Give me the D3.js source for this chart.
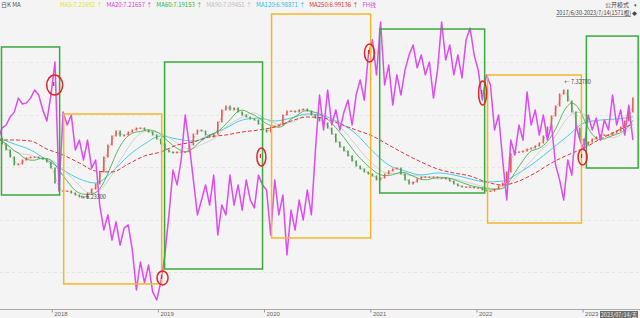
<!DOCTYPE html>
<html><head><meta charset="utf-8">
<script src="https://cdn.jsdelivr.net/npm/d3@7"></script>
<style>
html,body{margin:0;padding:0;background:#f4f4f4;overflow:hidden;}
svg{display:block;font-family:"Noto Sans CJK SC","Noto Sans",sans-serif;}
</style></head><body>
<svg id="c" width="640" height="318"></svg>
<script>
// ---------- DATA ----------
const startDate = "2017-06-30";
const endDate = "2023-07-14";
const stepDays = 14; // one sample every two weeks
const closePrice = [6.780,6.723,6.666,6.599,6.523,6.532,6.570,6.590,6.599,6.599,6.590,6.580,6.551,6.494,6.351,6.275,6.275,6.275,6.256,6.237,6.218,6.209,6.256,6.294,6.342,6.456,6.599,6.713,6.799,6.847,6.799,6.809,6.837,6.856,6.875,6.875,6.856,6.837,6.809,6.770,6.723,6.666,6.647,6.637,6.647,6.647,6.647,6.713,6.818,6.856,6.847,6.809,6.790,6.818,6.932,7.047,7.085,7.047,7.066,7.028,6.999,6.980,6.961,6.951,6.913,6.856,6.837,6.885,6.894,6.904,6.999,7.037,7.037,7.028,7.047,7.056,7.037,6.999,6.970,6.942,6.923,6.875,6.818,6.742,6.694,6.656,6.609,6.561,6.513,6.485,6.456,6.437,6.418,6.380,6.399,6.437,6.466,6.485,6.494,6.437,6.380,6.342,6.361,6.390,6.409,6.409,6.409,6.409,6.399,6.399,6.390,6.370,6.342,6.323,6.313,6.313,6.313,6.304,6.304,6.285,6.275,6.275,6.294,6.323,6.351,6.456,6.628,6.647,6.647,6.656,6.675,6.685,6.704,6.732,6.799,6.885,6.990,7.085,7.199,7.237,7.132,7.028,6.875,6.770,6.713,6.742,6.770,6.790,6.809,6.809,6.809,6.828,6.847,6.885,6.942,7.028,7.161];
const fhValues = [57.1,61.4,62.5,65.4,67.1,72.1,70.0,70.4,72.1,75.0,73.2,67.9,63.9,73.2,85.0,39.3,67.1,62.5,66.1,53.6,57.1,50.0,57.1,47.1,50.0,33.9,25.0,30.4,21.4,27.9,19.6,25.7,26.8,17.9,3.6,13.6,6.1,12.5,2.9,0.0,6.4,16.1,30.4,46.4,41.1,50.0,66.1,55.4,42.9,30.4,35.7,41.1,33.9,44.6,23.2,33.9,30.4,44.6,33.9,41.1,32.1,42.9,35.7,32.9,44.6,41.1,39.3,23.2,42.9,30.4,37.5,16.1,32.1,25.0,35.7,28.6,39.3,30.4,53.6,73.2,60.7,75.0,62.5,67.9,60.7,67.1,71.4,62.5,73.2,78.6,71.4,87.5,92.9,80.4,99.3,76.8,83.9,69.6,80.4,73.2,82.1,87.5,91.1,82.9,87.5,80.4,85.0,72.1,82.1,99.3,85.7,91.1,80.4,87.5,79.3,92.9,97.1,87.5,82.1,71.4,80.4,76.8,60.7,66.1,50.0,35.7,57.1,51.8,62.5,57.1,74.3,62.5,67.9,58.9,66.1,57.1,62.5,48.2,42.9,35.7,50.0,44.6,62.5,57.1,53.6,66.1,60.7,65.0,57.1,64.3,60.7,73.2,62.5,67.9,58.9,69.6,57.1];
const maStepDays = 56; // long averages read every eight weeks
const ma120Values = [6.780,6.723,6.666,6.570,6.475,6.390,6.351,6.456,6.609,6.723,6.799,6.770,6.751,6.809,6.875,6.951,6.970,6.942,6.970,7.009,6.990,6.923,6.818,6.656,6.523,6.466,6.428,6.447,6.428,6.390,6.361,6.370,6.447,6.551,6.675,6.799,6.923,6.951,6.961,6.980];
const ma250Values = [6.761,6.761,6.751,6.675,6.618,6.542,6.466,6.456,6.532,6.609,6.647,6.713,6.742,6.790,6.809,6.837,6.856,6.885,6.942,6.980,6.970,6.913,6.856,6.799,6.713,6.628,6.551,6.485,6.447,6.418,6.361,6.332,6.370,6.447,6.542,6.618,6.685,6.770,6.847,6.913];
const yearLabels = ["2018","2019","2020","2021","2022","2023"];
const legendLabels = ["MA5:7.21692 ↑","MA20:7.21657 ↑","MA60:7.19153 ↑","MA90:7.09451 ↑","MA120:6.98871 ↑","MA250:6.99136 ↑","FH线"];
// boxes: [start date, end date, top price, bottom price]
const greenBoxes = [["2017-07-12","2018-01-28",7.647,6.237],["2019-01-24","2019-12-27",7.504,5.532],["2021-02-02","2022-01-29",7.818,6.256],["2023-01-14","2023-07-11",7.751,6.494]];
const orangeBoxes = [["2018-02-11","2019-01-14",7.009,5.390],["2020-01-27","2021-01-02",7.961,5.828],["2022-02-08","2022-12-28",7.380,5.970]];
// signal circles: [date, price]
const signalMarks = [["2018-01-11",7.285],["2019-01-17",5.447],["2019-12-23",6.599],["2020-12-29",7.590],["2022-01-22",7.209],["2023-01-01",6.599]];
const lowLabel = ["2018-04-10", 6.20, "6.23300"];
const highLabel = ["2022-10-30", 7.29, "7.32780"];

// ---------- SETUP ----------
const W = 640, H = 318;
const svg = d3.select("#c");
const parse = d3.timeParse("%Y-%m-%d");
const t0 = parse(startDate), t1 = parse(endDate);
const x = d3.scaleTime().domain([t0, t1]).range([-2, 639]);
const y = d3.scaleLinear().domain([5.151, 7.904]).range([309, 20]);
const yf = d3.scaleLinear().domain([0, 100]).range([300, 20]);

const n = Math.min(closePrice.length, fhValues.length);
const dates = d3.range(n).map(i => d3.timeDay.offset(t0, i * stepDays));
const bars = d3.range(n).map(i => ({d: dates[i], c: closePrice[i], o: i ? closePrice[i-1] : closePrice[i], fh: fhValues[i]}));
const maDates = d3.range(ma120Values.length).map(i => d3.timeDay.offset(t0, i * maStepDays));

svg.append("rect").attr("width", W).attr("height", H).attr("fill", "#f4f4f4");

// faint grid
const grid = svg.append("g");
[7.5, 7.0, 6.5, 6.0, 5.5].forEach(p => {
  grid.append("line").attr("x1", 0).attr("x2", W).attr("y1", Math.round(y(p)) + 0.5).attr("y2", Math.round(y(p)) + 0.5)
    .attr("stroke", "#e6e6e6").attr("stroke-dasharray", "3,3").attr("stroke-width", 1);
});

// bottom axis
const axisG = svg.append("g").attr("transform", "translate(0,309.5)");
axisG.call(d3.axisBottom(x).tickValues(yearLabels.map(s => parse(s + "-01-01"))).tickSize(3).tickFormat(d => d3.timeFormat("%Y")(d)));
axisG.select(".domain").attr("stroke", "#aaa").attr("d", `M0,0H${W}`);
axisG.selectAll(".tick line").attr("stroke", "#999");
axisG.selectAll(".tick text").attr("y", 2).attr("dy", "0.71em").attr("x", 2).attr("text-anchor", "start")
  .attr("font-size", 6).attr("fill", "#666");

// moving average helper (trailing)
function trailing(win) {
  return bars.map((b, i) => ({d: b.d, v: d3.mean(bars.slice(Math.max(0, i - win + 1), i + 1), e => e.c)}));
}
const lineP = d3.line().x(p => x(p.d)).y(p => y(p.v)).curve(d3.curveMonotoneX);

// long MAs
svg.append("path").datum(ma120Values.map((v, i) => ({d: maDates[i], v})))
  .attr("d", lineP).attr("fill", "none").attr("stroke", "#4cc9e6").attr("stroke-width", 1);
svg.append("path").datum(trailing(9)).attr("d", lineP).attr("fill", "none").attr("stroke", "#c8c8c8").attr("stroke-width", 0.8);
svg.append("path").datum(trailing(6)).attr("d", lineP).attr("fill", "none").attr("stroke", "#36a83a").attr("stroke-width", 0.8);
svg.append("path").datum(trailing(2)).attr("d", lineP).attr("fill", "none").attr("stroke", "#e8a0a0").attr("stroke-width", 0.8).attr("stroke-dasharray", "2,1");
svg.append("path").datum(ma250Values.map((v, i) => ({d: maDates[i], v})))
  .attr("d", lineP).attr("fill", "none").attr("stroke", "#d83a3a").attr("stroke-width", 1).attr("stroke-dasharray", "4,2");

// candles
const cg = svg.append("g");
cg.selectAll("rect").data(bars).join("rect")
  .attr("x", b => x(b.d) - 0.8).attr("width", 1.6)
  .attr("y", b => Math.min(y(b.o), y(b.c)) - 0.5)
  .attr("height", b => Math.max(1.5, Math.abs(y(b.o) - y(b.c)) + 1))
  .attr("fill", b => b.c >= b.o ? "#e0503e" : "#3a9a40")
  .attr("opacity", 0.9);

// FH magenta line
svg.append("path").datum(bars)
  .attr("d", d3.line().x(b => x(b.d)).y(b => yf(b.fh)))
  .attr("fill", "none").attr("stroke", "#dc4cf0").attr("stroke-width", 1.5).attr("stroke-linejoin", "round");

// boxes
function drawBoxes(list, color) {
  svg.append("g").selectAll("rect").data(list).join("rect")
    .attr("x", b => x(parse(b[0]))).attr("y", b => y(b[2]))
    .attr("width", b => x(parse(b[1])) - x(parse(b[0])))
    .attr("height", b => y(b[3]) - y(b[2]))
    .attr("fill", "none").attr("stroke", color).attr("stroke-width", 1.5);
}
drawBoxes(greenBoxes, "#3aa93a");
drawBoxes(orangeBoxes, "#f6b62c");

// signal circles
const radii = [[8,10],[5.5,7],[4.5,9],[5,9],[4,12],[4.5,8]];
const sg = svg.append("g").selectAll("g").data(signalMarks).join("g")
  .attr("transform", m => `translate(${x(parse(m[0]))},${y(m[1])})`);
sg.append("ellipse").attr("rx", (m, i) => radii[i][0]).attr("ry", (m, i) => radii[i][1])
  .attr("fill", "none").attr("stroke", "#e02626").attr("stroke-width", 1.5);
sg.append("line").attr("x1", -1).attr("x2", -1).attr("y1", -3).attr("y2", 1).attr("stroke", "#e02626").attr("stroke-width", 1.2);

// extreme labels
svg.append("text").attr("x", x(parse(lowLabel[0]))).attr("y", y(lowLabel[1])).attr("font-size", 5.5).attr("fill", "#444")
  .text("←" + lowLabel[2]);
svg.append("text").attr("x", x(parse(highLabel[0]))).attr("y", y(highLabel[1])).attr("font-size", 5.5).attr("fill", "#444")
  .text("← " + highLabel[2]);

// legend
const lg = svg.append("g").attr("font-size", 6);
lg.append("text").attr("x", 1).attr("y", 7).attr("fill", "#555").text("日K MA");
const legendColors = ["#e6e02a","#e040e0","#2fb52f","#bdbdbd","#2fc0e0","#e03030","#d04ce8"];
let lx = 60;
legendLabels.forEach((s, i) => {
  const t = lg.append("text").attr("x", lx).attr("y", 7).attr("fill", legendColors[i]).text(s);
  lx += t.node().getComputedTextLength() + 4;
});

// top-right
svg.append("text").attr("x", 629).attr("y", 7).attr("text-anchor", "end").attr("font-size", 6).attr("fill", "#444").text("公开模式");
svg.append("text").attr("x", 637).attr("y", 7).attr("text-anchor", "end").attr("font-size", 5).attr("fill", "#444").text("▾");
svg.append("text").attr("x", 631).attr("y", 15).attr("text-anchor", "end").attr("font-size", 5.5).attr("fill", "#444")
  .attr("text-decoration", "underline").text("2017/6/30-2023/7/14(1571根)");
svg.append("text").attr("x", 637).attr("y", 15).attr("text-anchor", "end").attr("font-size", 5).attr("fill", "#444").text("◆");

// date box bottom right
svg.append("rect").attr("x", 600).attr("y", 311).attr("width", 38).attr("height", 7).attr("fill", "#6c6c6c");
svg.append("text").attr("x", 619).attr("y", 316.5).attr("text-anchor", "middle").attr("font-size", 5.5).attr("fill", "#eee").text("2023/07/14/五");
</script>
</body></html>
